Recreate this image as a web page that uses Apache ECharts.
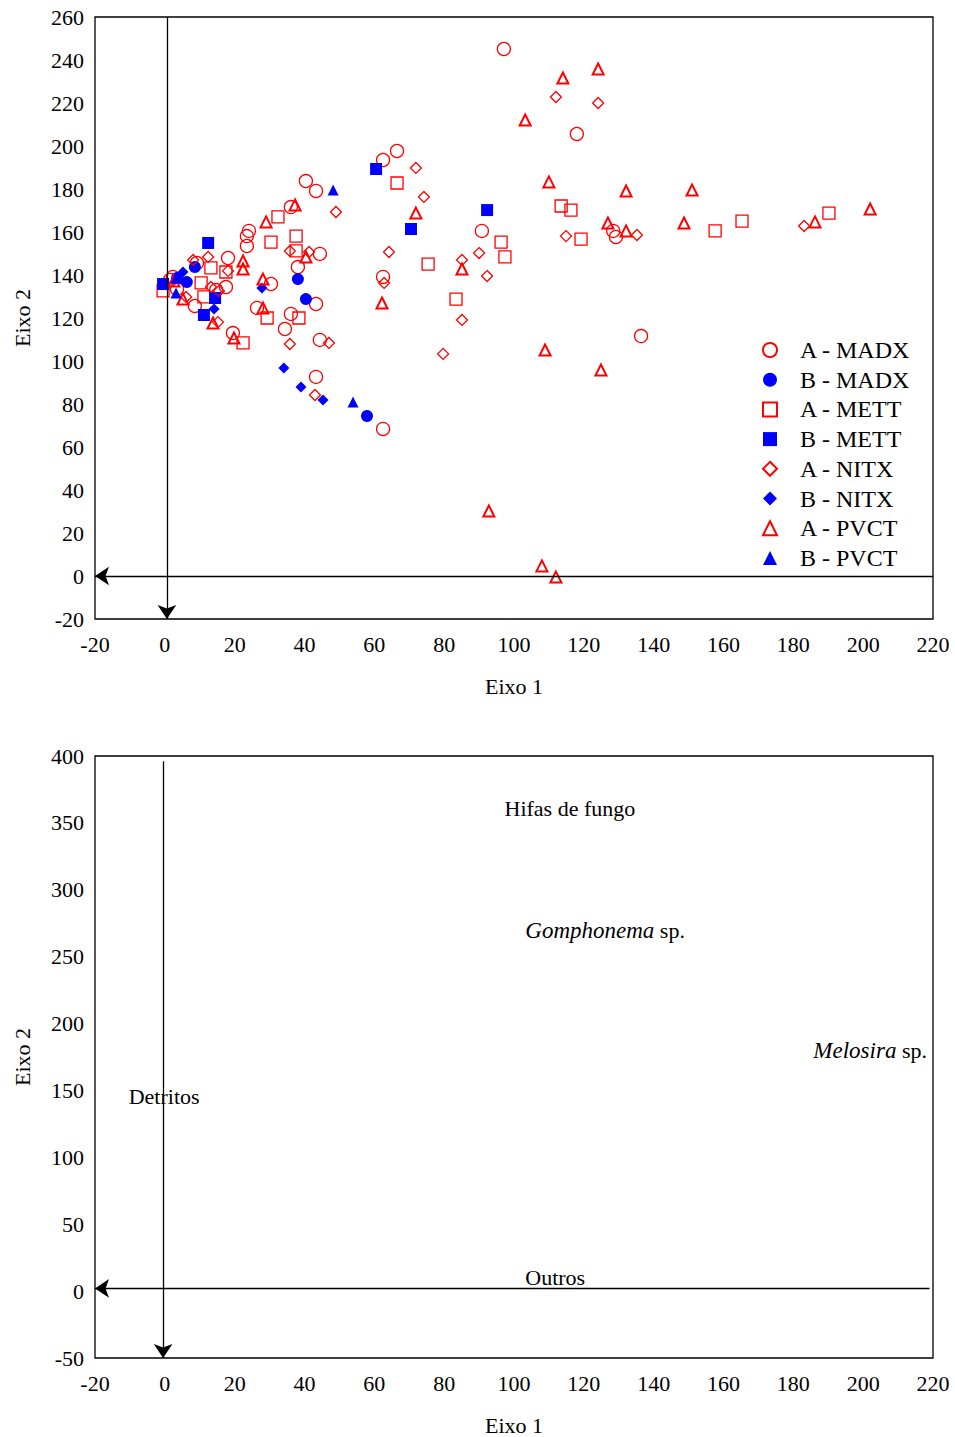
<!DOCTYPE html>
<html><head><meta charset="utf-8">
<script src="https://cdn.jsdelivr.net/npm/echarts@6/dist/echarts.min.js"></script>
<style>html,body{margin:0;padding:0;background:#fff}#c{width:955px;height:1437px}</style>
</head><body><div id="c"></div>
<script>
// ---- data (Eixo 1, Eixo 2) ----
const seriesNames = ['A - MADX','B - MADX','A - METT','B - METT','A - NITX','B - NITX','A - PVCT','B - PVCT'];
const aMADX = [[97.1,245.1],[118.0,205.6],[66.5,197.7],[62.5,193.5],[40.4,183.7],[43.3,179.1],[36.1,171.6],[24.1,160.5],[23.5,158.1],[23.5,153.5],[90.8,160.5],[128.4,160.5],[129.2,157.7],[44.4,149.8],[18.1,147.9],[38.1,143.7],[62.5,139.1],[30.4,135.8],[17.5,134.4],[43.3,126.5],[26.4,124.7],[36.1,121.9],[8.6,125.6],[34.4,114.9],[19.5,113.0],[44.4,109.8],[43.3,92.6],[62.5,68.4],[136.4,111.6],[2.3,139.1],[9.2,145.6],[14.7,133.0],[1.5,137.7],[3.5,133.5]];
const bMADX = [[38.1,138.1],[40.4,128.8],[57.9,74.4],[8.6,143.7],[6.3,136.7],[3.5,138.6]];
const aMETT = [[66.5,182.8],[113.5,172.1],[116.3,170.2],[96.3,155.3],[97.4,148.4],[119.2,156.7],[75.4,145.1],[157.6,160.5],[165.3,165.1],[190.2,168.8],[83.4,128.8],[32.4,167.0],[30.4,155.3],[37.6,158.1],[37.6,151.2],[29.3,120.0],[38.4,120.0],[22.4,108.4],[13.2,143.3],[17.5,141.4],[10.4,136.3],[11.2,129.8],[-0.5,132.6]];
const bMETT = [[60.5,189.3],[70.5,161.4],[92.3,170.2],[12.4,154.9],[14.4,129.3],[11.2,121.4],[-0.5,135.8]];
const aNITX = [[112.0,222.8],[124.1,220.0],[71.9,189.8],[74.2,176.3],[49.0,169.3],[64.2,150.7],[90.0,150.2],[85.1,147.0],[92.3,139.5],[62.8,136.3],[85.1,119.1],[79.7,103.3],[114.9,158.1],[135.2,158.6],[183.1,162.8],[35.8,151.2],[41.3,150.7],[35.8,107.9],[47.0,108.4],[43.0,84.2],[8.1,147.0],[12.4,148.4],[18.1,141.9],[13.2,134.4],[15.5,132.6],[15.2,118.1],[6.1,129.8]];
const bNITX = [[27.8,134.0],[34.1,96.7],[39.0,87.9],[45.3,81.9],[5.2,141.4],[14.1,124.2]];
const aPVCT = [[114.0,231.6],[124.1,235.8],[103.2,212.1],[110.0,183.3],[132.1,179.1],[151.0,179.5],[126.9,164.2],[132.1,160.5],[148.7,164.2],[186.2,164.7],[202.0,170.7],[71.9,168.8],[85.1,142.8],[108.9,105.1],[124.9,95.8],[92.8,30.2],[108.0,4.7],[112.0,-0.5],[37.3,172.6],[29.0,164.7],[22.4,146.5],[22.4,142.8],[40.4,148.4],[28.1,138.1],[62.2,127.0],[28.1,124.7],[19.8,110.7],[5.2,128.8],[13.8,117.7],[2.6,137.2]];
const bPVCT = [[48.2,179.5],[53.9,80.9],[3.2,138.6],[3.2,131.6]];

// second panel: variable labels
const varNames = ['Hifas de fungo','{i|Gomphonema} sp.','{i|Melosira} sp.','Detritos','Outros'];
const varPos = [[116.0,360.7],[126.1,269.7],[202.0,179.6],[-0.2,145.3],[111.8,10.4]];

// axis ticks
const xTicks = {min:-20, max:220, interval:20};
const yTicksTop = {min:-20, max:260, interval:20};
const yTicksBot = {min:-50, max:400, interval:50};

const FONT = '"Liberation Serif","Times New Roman",serif';
const RED = '#ff0000', BLUE = '#0000ff';

const chart = echarts.init(document.getElementById('c'), null, {renderer:'svg'});

const styles = [
  {symbol:'circle', size:13, item:{color:'rgba(0,0,0,0)', borderColor:RED, borderWidth:1.3, opacity:1}},
  {symbol:'circle', size:12, item:{color:BLUE, opacity:1}},
  {symbol:'rect', size:12, item:{color:'rgba(0,0,0,0)', borderColor:RED, borderWidth:1.3, opacity:1}},
  {symbol:'rect', size:12, item:{color:BLUE, opacity:1}},
  {symbol:'diamond', size:11, item:{color:'rgba(0,0,0,0)', borderColor:RED, borderWidth:1.3, opacity:1}},
  {symbol:'diamond', size:11, item:{color:BLUE, opacity:1}},
  {symbol:'triangle', size:11, item:{color:'rgba(0,0,0,0)', borderColor:RED, borderWidth:2, opacity:1}},
  {symbol:'triangle', size:11, item:{color:BLUE, opacity:1}}
];
const datasets = [aMADX,bMADX,aMETT,bMETT,aNITX,bNITX,aPVCT,bPVCT];

const axisCommon = {
  axisLine:{show:false}, axisTick:{show:false}, splitLine:{show:false},
  axisLabel:{color:'#000', fontFamily:FONT, fontSize:22},
  nameTextStyle:{color:'#000', fontFamily:FONT, fontSize:22},
  nameLocation:'middle'
};

const series = datasets.map((d,i)=>({
  name: seriesNames[i], type:'scatter', xAxisIndex:0, yAxisIndex:0,
  symbol: styles[i].symbol, symbolSize: styles[i].size,
  itemStyle: styles[i].item, data: d, z: 3, emphasis:{disabled:true}
}));

const arrowLine = (xi, coordsList) => ({
  type:'line', xAxisIndex:xi, yAxisIndex:xi, data:[], silent:true, clip:false,
  markLine:{
    silent:true, symbol:['none','arrow'], symbolSize:14, animation:false,
    label:{show:false},
    lineStyle:{color:'#000', width:1.3, type:'solid'},
    data: coordsList.map(c=>[{coord:c[0]},{coord:c[1]}])
  }
});

series.push(arrowLine(0, [[[220,0],[-20,0]], [[0.6,260],[0.6,-20]]]));
series.push(arrowLine(1, [[[219,2],[-20,2]], [[-0.5,396],[-0.5,-50]]]));
series.push({
  type:'scatter', xAxisIndex:1, yAxisIndex:1, symbolSize:1,
  itemStyle:{color:'rgba(0,0,0,0)', opacity:1}, silent:true,
  data: varPos.map((p,i)=>({value:p, name:varNames[i]})),
  label:{show:true, position:'inside', formatter: p=>p.name, color:'#000', opacity:1,
    textBorderWidth:0,
    fontFamily:FONT, fontSize:22,
    rich:{i:{fontStyle:'italic', fontFamily:FONT, fontSize:23, color:'#000', textBorderWidth:0}}}
});

chart.setOption({
  animation:false,
  backgroundColor:'#fff',
  grid:[
    {left:95, top:17, width:838, height:602, show:true, borderColor:'#000', borderWidth:1.3, backgroundColor:'transparent'},
    {left:95, top:756, width:838, height:603, show:true, borderColor:'#000', borderWidth:1.3, backgroundColor:'transparent'}
  ],
  xAxis:[
    Object.assign({}, axisCommon, {type:'value', gridIndex:0, min:xTicks.min, max:xTicks.max, interval:xTicks.interval, name:'Eixo 1', nameGap:56, axisLabel:Object.assign({}, axisCommon.axisLabel, {margin:14})}),
    Object.assign({}, axisCommon, {type:'value', gridIndex:1, min:xTicks.min, max:xTicks.max, interval:xTicks.interval, name:'Eixo 1', nameGap:56, axisLabel:Object.assign({}, axisCommon.axisLabel, {margin:14})})
  ],
  yAxis:[
    Object.assign({}, axisCommon, {type:'value', gridIndex:0, min:yTicksTop.min, max:yTicksTop.max, interval:yTicksTop.interval, name:'Eixo 2', nameGap:62, axisLabel:Object.assign({}, axisCommon.axisLabel, {margin:11})}),
    Object.assign({}, axisCommon, {type:'value', gridIndex:1, min:yTicksBot.min, max:yTicksBot.max, interval:yTicksBot.interval, name:'Eixo 2', nameGap:62, axisLabel:Object.assign({}, axisCommon.axisLabel, {margin:11})})
  ],
  legend:{
    data: seriesNames, orient:'vertical', left:757, top:333,
    itemWidth:14, itemHeight:14, itemGap:5.7, selectedMode:false,
    textStyle:{color:'#000', fontFamily:FONT, fontSize:24, lineHeight:24, padding:[0,0,0,18]}
  },
  series: series
});
</script></body></html>
